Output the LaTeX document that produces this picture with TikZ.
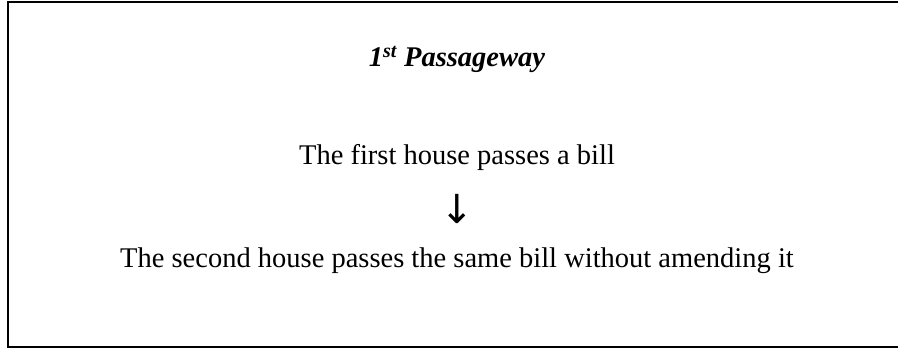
\documentclass[tikz,border=0pt]{standalone}
\usepackage{fontspec}
\setmainfont{Liberation Serif}
\newfontfamily\arrowfont{DejaVu Sans}

\begin{document}
\begin{tikzpicture}
[x=1pt, y=1pt,
frame/.style={black, line width = 2pt},
step text/.style={font=\fontsize{28.5}{34}\selectfont, anchor=base},
heading/.style={font=\fontsize{28.5}{34}\selectfont\bfseries\itshape, anchor=base}]
\useasboundingbox (0,0) rectangle (898,349);
% open frame, runs off on the right
\draw[frame] (898,347) -- (7.5,347) -- (7.5,2.5) -- (898,2.5);
\node[heading] (title) at (457,282) {1\textsuperscript{st} Passageway};
\node[step text] (first) at (457,185) {The first house passes a bill};
\node[font=\arrowfont\fontsize{40}{46}\selectfont, inner sep=0pt] (arrow) at (457,140) {↓};
\node[step text] (second) at (457,82) {The second house passes the same bill without amending it};
\end{tikzpicture}
\end{document}
